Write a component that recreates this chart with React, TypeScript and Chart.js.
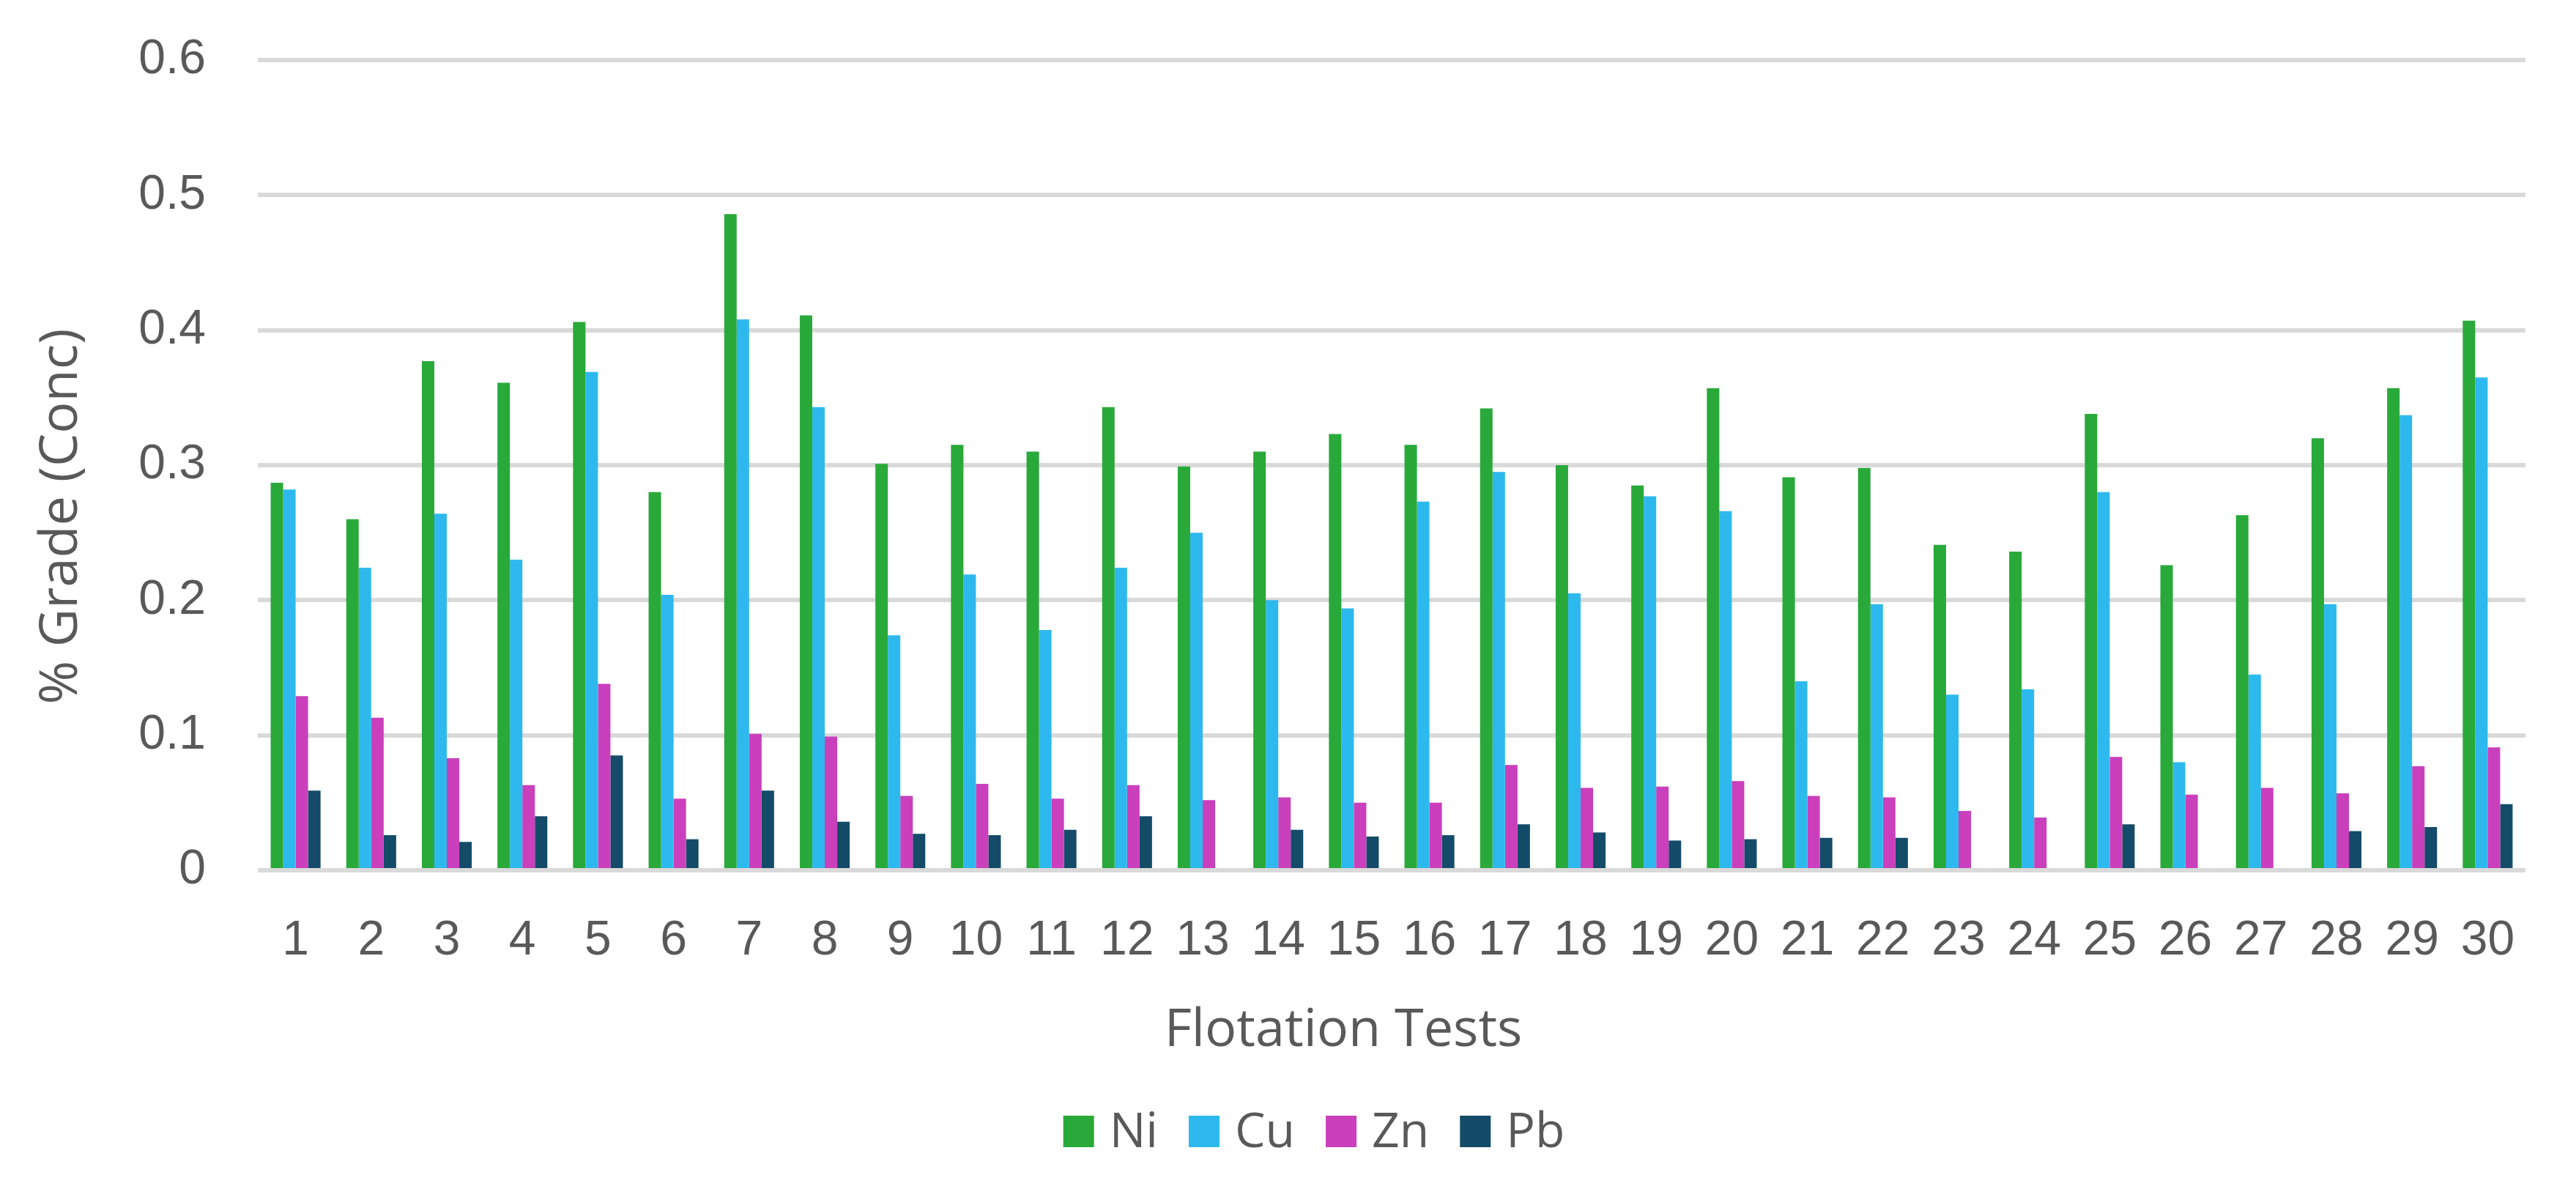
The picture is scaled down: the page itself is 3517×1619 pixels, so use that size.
import React, { useEffect, useRef } from 'react';
import { Chart, registerables } from 'chart.js';

Chart.register(...registerables);

// Flotation test numbers
const tests = [
  '1', '2', '3', '4', '5', '6', '7', '8', '9', '10',
  '11', '12', '13', '14', '15', '16', '17', '18', '19', '20',
  '21', '22', '23', '24', '25', '26', '27', '28', '29', '30',
];

// Concentrate grades (%)
const ni = [
  0.287, 0.260, 0.377, 0.361, 0.406, 0.280, 0.486, 0.411, 0.301, 0.315,
  0.310, 0.343, 0.299, 0.310, 0.323, 0.315, 0.342, 0.300, 0.285, 0.357,
  0.291, 0.298, 0.241, 0.236, 0.338, 0.226, 0.263, 0.320, 0.357, 0.407,
];
const cu = [
  0.282, 0.224, 0.264, 0.230, 0.369, 0.204, 0.408, 0.343, 0.174, 0.219,
  0.178, 0.224, 0.250, 0.200, 0.194, 0.273, 0.295, 0.205, 0.277, 0.266,
  0.140, 0.197, 0.130, 0.134, 0.280, 0.080, 0.145, 0.197, 0.337, 0.365,
];
const zn = [
  0.129, 0.113, 0.083, 0.063, 0.138, 0.053, 0.101, 0.099, 0.055, 0.064,
  0.053, 0.063, 0.052, 0.054, 0.050, 0.050, 0.078, 0.061, 0.062, 0.066,
  0.055, 0.054, 0.044, 0.039, 0.084, 0.056, 0.061, 0.057, 0.077, 0.091,
];
const pb = [
  0.059, 0.026, 0.021, 0.040, 0.085, 0.023, 0.059, 0.036, 0.027, 0.026,
  0.030, 0.040, 0, 0.030, 0.025, 0.026, 0.034, 0.028, 0.022, 0.023,
  0.024, 0.024, 0, 0, 0.034, 0, 0, 0.029, 0.032, 0.049,
];

const seriesNames = ['Ni', 'Cu', 'Zn', 'Pb'];
const seriesColors = ['#29a93a', '#2eb9ee', '#ca3fbc', '#134b68'];
const seriesValues = [ni, cu, zn, pb];

const yTicks = [0, 0.1, 0.2, 0.3, 0.4, 0.5, 0.6];

const TEXT = '#595959';
const GRID = '#d9d9d9';
const TITLE_FONT = '"Open Sans", "Noto Sans", sans-serif';
const TICK_FONT = '"Liberation Sans", Arial, sans-serif';

// Axis titles and the legend row underneath the chart
const titlesAndLegend = {
  id: 'titlesAndLegend',
  afterDraw(chart: any) {
    const { ctx, chartArea } = chart;
    ctx.save();
    ctx.fillStyle = TEXT;

    // x axis title
    ctx.font = `72px ${TITLE_FONT}`;
    ctx.textAlign = 'center';
    ctx.textBaseline = 'alphabetic';
    ctx.fillText('Flotation Tests', chartArea.left + 1482, chartArea.bottom + 240);

    // y axis title
    ctx.save();
    ctx.translate(84, chartArea.top + 623);
    ctx.rotate(-Math.PI / 2);
    ctx.textAlign = 'center';
    ctx.textBaseline = 'middle';
    ctx.fillText('% Grade (Conc)', 0, 0);
    ctx.restore();

    // legend
    const boxW = 42;
    const boxH = 43;
    const gap = 21;
    const spacing = 42;
    ctx.font = `66px ${TITLE_FONT}`;
    const widths = chart.data.datasets.map((d: any) => ctx.measureText(d.label).width);
    const total =
      widths.reduce((s: number, w: number) => s + boxW + gap + w, 0) +
      spacing * (widths.length - 1);
    let x = 1794 - total / 2;
    const boxTop = chartArea.bottom + 335;
    const baseline = boxTop + boxH;
    ctx.textAlign = 'left';
    ctx.textBaseline = 'alphabetic';
    chart.data.datasets.forEach((d: any, i: number) => {
      ctx.fillStyle = d.backgroundColor;
      ctx.fillRect(x, boxTop, boxW, boxH);
      ctx.fillStyle = TEXT;
      ctx.fillText(d.label, x + boxW + gap, baseline);
      x += boxW + gap + widths[i] + spacing;
    });

    ctx.restore();
  },
};

export default function App() {
  const canvasRef = useRef<HTMLCanvasElement | null>(null);

  useEffect(() => {
    const canvas = canvasRef.current;
    if (!canvas) return;

    const chart = new Chart(canvas, {
      type: 'bar',
      data: {
        labels: tests,
        datasets: seriesNames.map((name, i) => ({
          label: name,
          data: seriesValues[i],
          backgroundColor: seriesColors[i],
          borderWidth: 0,
          categoryPercentage: 0.66,
          barPercentage: 1.0,
        })),
      },
      options: {
        animation: false,
        responsive: true,
        maintainAspectRatio: false,
        layout: {
          padding: { top: 82, right: 69, bottom: 0, left: 0 },
        },
        plugins: {
          legend: { display: false },
          tooltip: { enabled: false },
          title: { display: false },
        },
        scales: {
          x: {
            grid: { display: false, drawTicks: false },
            border: { display: false },
            ticks: {
              color: TEXT,
              font: { family: TICK_FONT, size: 66 },
              padding: 57,
              maxRotation: 0,
              autoSkip: false,
            },
            afterFit(scale: any) {
              scale.height = 431;
            },
          },
          y: {
            min: 0,
            max: 0.6,
            afterBuildTicks(scale: any) {
              scale.ticks = yTicks.map((v) => ({ value: v }));
            },
            grid: {
              color: GRID,
              lineWidth: 6,
              drawTicks: false,
            },
            border: { display: false },
            ticks: {
              color: TEXT,
              font: { family: TICK_FONT, size: 66 },
              padding: 71,
              callback: (v: any) => (Number(v) === 0 ? '0' : Number(v).toFixed(1)),
            },
            afterFit(scale: any) {
              scale.width = 352;
              scale.paddingTop = 0;
              scale.paddingBottom = 0;
            },
          },
        },
      },
      plugins: [titlesAndLegend],
    });

    return () => chart.destroy();
  }, []);

  return (
    <div
      style={{
        position: 'fixed',
        left: 0,
        top: 0,
        width: '100vw',
        height: '100vh',
        background: '#ffffff',
      }}
    >
      <canvas ref={canvasRef} />
    </div>
  );
}
